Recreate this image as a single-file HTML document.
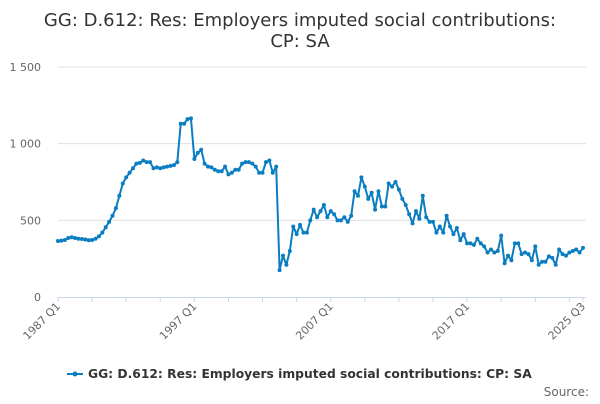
<!DOCTYPE html>
<html><head><meta charset="utf-8"><style>
body{margin:0;width:600px;height:400px;background:#fff;font-family:"DejaVu Sans","Liberation Sans",sans-serif;overflow:hidden}
svg text{font-family:"DejaVu Sans","Liberation Sans",sans-serif}
</style></head><body>
<svg id="c" width="600" height="400" xmlns="http://www.w3.org/2000/svg">
<text x="300" y="26" text-anchor="middle" font-size="18" fill="#333"><tspan x="300">GG: D.612: Res: Employers imputed social contributions:</tspan><tspan x="300" dy="21">CP: SA</tspan></text>
<g id="grid"></g><g id="xax"></g><g id="series"></g>
<g>
<line x1="67" y1="374" x2="83" y2="374" stroke="#0b7dc1" stroke-width="2"/>
<circle cx="75" cy="374" r="2.5" fill="#0b7dc1"/>
<text x="88" y="378" font-size="12.3" font-weight="bold" fill="#333">GG: D.612: Res: Employers imputed social contributions: CP: SA</text>
</g>
<text x="589" y="396" text-anchor="end" font-size="12" fill="#666">Source:</text>
</svg>
<script>
const yTicks=[0,500,1000,1500];
const yTickLabels=["0","500","1 000","1 500"];
const xTickLabels=["1987 Q1","1997 Q1","2007 Q1","2017 Q1","2025 Q3"];
const xTickIdx=[0,40,80,120,154];
const values=[365,368,372,385,390,385,380,378,375,370,
372,380,395,420,455,490,530,580,660,740,
780,810,840,870,875,890,880,880,840,845,
840,845,850,855,860,880,1130,1130,1160,1165,
900,940,960,870,850,845,830,820,820,850,
800,810,830,830,870,880,880,870,850,810,
810,880,890,810,850,175,270,210,300,460,
410,470,420,420,500,570,520,560,600,520,
560,540,500,500,520,490,530,690,660,780,
720,640,680,570,690,590,590,740,720,750,
700,640,600,540,480,560,510,660,520,490,
490,420,460,420,530,460,410,450,370,410,
350,350,340,380,350,330,290,310,290,300,
400,220,270,240,350,350,280,290,280,240,
330,210,230,230,265,255,210,310,280,270,
290,300,310,290,320];
const x0=58,x1=583,yb=297,yt=67;
const xs=i=>x0+(x1-x0)*i/(values.length-1);
const ys=v=>yb-(yb-yt)*v/1500;
const NS="http://www.w3.org/2000/svg";
const mk=(t,a,p)=>{const e=document.createElementNS(NS,t);for(const k in a)e.setAttribute(k,a[k]);p.appendChild(e);return e;};
const grid=document.getElementById('grid');
yTicks.forEach((v,i)=>{
 if(v>0){const l=mk('line',{x1:x0,x2:x1+3,y1:ys(v),y2:ys(v),stroke:'#e0e0e0','stroke-width':1},grid);
 
 }
 const t=mk('text',{x:41,y:ys(v)+4,'text-anchor':'end','font-size':11,fill:'#666'},grid);
 t.textContent=yTickLabels[i];
 
 
});
const xax=document.getElementById('xax');
const ax=mk('line',{x1:x0,x2:x1+3,y1:yb+0.5,y2:yb+0.5,stroke:'#ccd6eb','stroke-width':1},xax);


for(let i=0;i<values.length;i+=10){mk('line',{x1:xs(i),x2:xs(i),y1:yb,y2:yb+5,stroke:'#ccd6eb'},xax);}
mk('line',{x1:xs(154),x2:xs(154),y1:yb,y2:yb+5,stroke:'#ccd6eb'},xax);
xTickIdx.forEach((ix,i)=>{
 const x=xs(ix)+3,y=yb+10;
 const t=mk('text',{x:x,y:y,'text-anchor':'end','font-size':11,fill:'#666',transform:`rotate(-45 ${x} ${y})`},xax);
 t.textContent=xTickLabels[i];
 
 
});
const s=document.getElementById('series');
const pl=mk('polyline',{points:values.map((v,i)=>xs(i)+','+ys(v)).join(' '),fill:'none',stroke:'#0b7dc1','stroke-width':2,'stroke-linejoin':'round'},s);


values.forEach((v,i)=>{
 const c=mk('circle',{cx:xs(i),cy:ys(v),r:2,fill:'#0b7dc1'},s);
 
 
});
</script>
</body></html>
